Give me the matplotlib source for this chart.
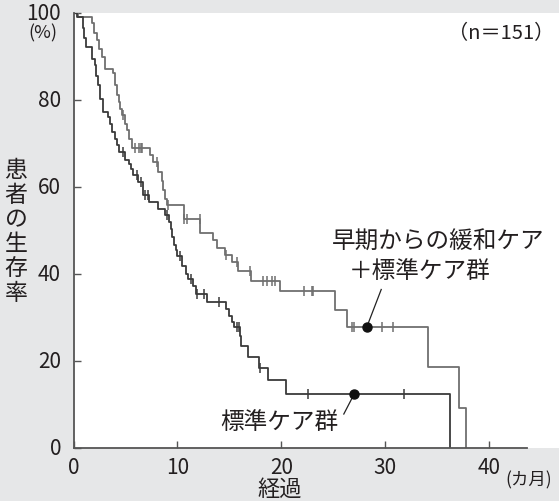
import numpy as np
import matplotlib
matplotlib.use('Agg')
import matplotlib.pyplot as plt

plt.rcParams['font.family'] = ['Noto Sans CJK JP', 'DejaVu Sans']

# Kaplan-Meier steps (months, % surviving)
early_t = [0, 0.4, 1.75, 2.0, 2.3, 2.5, 2.75, 3.03, 3.77, 4.0, 4.2, 4.35, 4.5, 4.65, 4.95,
           5.15, 5.35, 5.6, 7.4, 7.65, 8.1, 8.5, 8.65, 8.8, 9.0, 10.6, 12.2, 13.4, 13.8,
           14.6, 15.2, 15.85, 17.1, 19.9, 25.2, 26.3, 34.1, 37.1, 37.8]
early_s = [100, 99.0, 97.5, 95.2, 93.6, 91.7, 89.8, 87.1, 86.0, 83.3, 81.0, 79.5, 77.9, 76.5,
           74.5, 73.0, 71.0, 68.9, 67.2, 65.7, 63.4, 61.4, 59.3, 57.2, 55.9, 52.6, 49.4, 47.7,
           45.9, 44.4, 42.7, 40.6, 38.4, 36.0, 31.8, 27.7, 18.5, 9.2, 0]
early_cens = [4.8, 5.9, 6.3, 6.45, 6.6, 8.0, 9.05, 10.65, 10.9, 12.15, 14.7, 15.7, 17.0,
              18.25, 18.6, 19.1, 19.4, 22.2, 22.9, 23.05, 26.75, 26.95, 29.7, 30.75]

std_t = [0, 0.37, 0.9, 1.0, 1.2, 1.75, 2.07, 2.2, 2.35, 2.55, 2.8, 3.35, 3.55, 3.7, 4.0,
         4.2, 4.35, 5.0, 5.3, 5.5, 5.75, 6.2, 6.7, 7.3, 8.15, 8.8, 9.2, 9.35, 9.5, 9.7,
         9.85, 10.0, 10.4, 10.8, 11.0, 11.5, 11.75, 12.8, 14.7, 15.0, 15.2, 15.4, 16.05,
         16.15, 16.8, 17.8, 18.7, 20.4, 36.2]
std_s = [100, 98.9, 96.5, 94.2, 92.1, 89.4, 87.9, 85.5, 83.3, 80.2, 77.2, 76.0, 74.4, 72.6,
         71.0, 69.5, 68.0, 66.2, 65.3, 64.0, 62.6, 61.1, 58.0, 56.5, 54.9, 53.4, 51.8, 50.3,
         48.4, 46.5, 45.4, 44.0, 41.9, 40.0, 38.9, 37.3, 35.4, 33.5, 32.0, 30.4, 29.0, 27.7,
         25.8, 23.5, 20.8, 18.4, 15.5, 12.4, 0]
std_cens = [4.8, 6.1, 6.5, 6.9, 7.15, 9.0, 10.2, 11.3, 11.85, 12.6, 14.0, 15.7, 15.95,
            17.9, 22.6, 31.8]

# labelled points
early_dot = 28.2
std_dot = 27.0

x_ticks = [0, 10, 20, 30, 40]
y_ticks = [0, 20, 40, 60, 80, 100]

bg = '#e6e7e8'
c_early = '#6f6f6f'
c_std = '#3a3a3a'
txt = '#231f20'


def level(t, s, x):
    # value of the step curve at time x
    i = np.searchsorted(t, x, side='right') - 1
    return np.array(s)[i]


fig = plt.figure(figsize=(5.59, 5.02), dpi=100, facecolor=bg)
ax = fig.add_axes([0.1315, 0.1056, 0.8685, 0.8675])
ax.set_facecolor('white')

ax.step(early_t, early_s, where='post', color=c_early, lw=1.3)
ax.step(std_t, std_s, where='post', color=c_std, lw=1.3)

ax.plot(early_cens, level(early_t, early_s, early_cens), ls='none', marker='|',
        ms=7, mew=1.1, color=c_early)
ax.plot(std_cens, level(std_t, std_s, std_cens), ls='none', marker='|',
        ms=7, mew=1.1, color=c_std)

# dots + leader lines to the labels
e_y = level(early_t, early_s, [early_dot])[0]
s_y = level(std_t, std_s, [std_dot])[0]
ax.plot([early_dot], [e_y], 'o', color='#111111', ms=6.5, zorder=5)
ax.plot([std_dot], [s_y], 'o', color='#111111', ms=6.5, zorder=5)
ax.plot([early_dot, 29.6], [e_y, 36.4], color='#222222', lw=0.9)
ax.plot([std_dot, 26.0], [s_y, 7.8], color='#222222', lw=0.9)

ax.text(35.1, 47.4, '早期からの緩和ケア', ha='center', va='center', fontsize=17, color=txt)
ax.text(33.3, 40.7, '＋標準ケア群', ha='center', va='center', fontsize=17, color=txt)
ax.text(19.8, 6.0, '標準ケア群', ha='center', va='center', fontsize=17, color=txt)
ax.text(41.1, 95.4, '（n＝151）', ha='center', va='center', fontsize=14.5, color=txt)

ax.set_xlim(0, 46.7)
ax.set_ylim(0, 100)
ax.set_xticks(x_ticks)
ax.set_yticks(y_ticks)
ax.tick_params(direction='in', length=5, width=1, color='#555555',
               labelsize=15, labelcolor=txt)
ax.tick_params(axis='x', pad=6)
ax.tick_params(axis='y', pad=9)
for t in ax.get_yticklabels():
    t.set_va('center')

for side in ['top', 'right']:
    ax.spines[side].set_visible(False)
for side in ['left', 'bottom']:
    ax.spines[side].set_color('#555555')
    ax.spines[side].set_linewidth(1.3)
ax.spines['bottom'].set_bounds(0, 43.6)

fig.text(43 / 559, 1 - 33 / 502, '(%)', ha='center', va='center', fontsize=13, color=txt)
fig.text(529 / 559, 1 - 480 / 502, '(カ月)', ha='center', va='center', fontsize=12.5, color=txt)
fig.text(280 / 559, 1 - 489 / 502, '経過', ha='center', va='center', fontsize=16, color=txt)
fig.text(16 / 559, 1 - 232 / 502, '患\n者\nの\n生\n存\n率', ha='center', va='center',
         fontsize=16.5, color=txt, linespacing=1.08)

fig.savefig('out.png', dpi=100, facecolor=bg)
